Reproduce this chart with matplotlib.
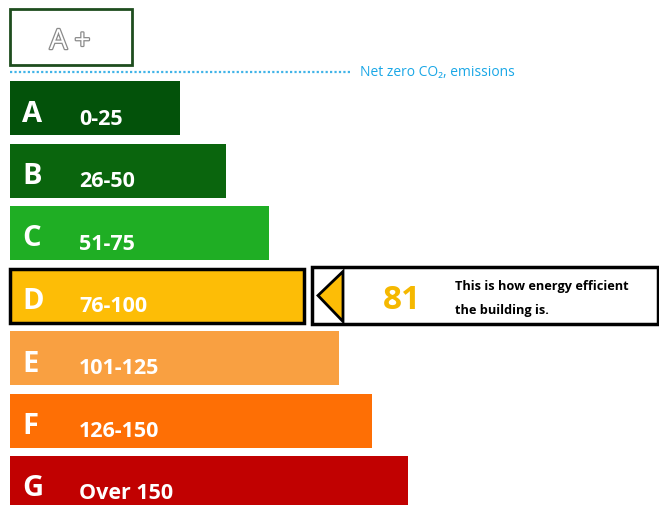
import matplotlib.pyplot as plt
import matplotlib.patheffects as pe
from matplotlib.patches import Rectangle, Polygon

plt.rcParams['font.family'] = ['Open Sans', 'DejaVu Sans']

# rating bands
letters = ['A', 'B', 'C', 'D', 'E', 'F', 'G']
ranges = ['0-25', '26-50', '51-75', '76-100', '101-125', '126-150', 'Over 150']
bar_length = [170, 216, 259, 294, 329, 362, 398]
colors = ['#03520a', '#0a650d', '#1fae24', '#fdbd06', '#f9a041', '#fe6f05', '#c10101']
current_band = 'D'
score = 81
note = ['This is how energy efficient', 'the building is.']

fig = plt.figure(figsize=(6.59, 5.06), dpi=100)
ax = fig.add_axes([0, 0, 1, 1])
ax.set_xlim(0, 659)
ax.set_ylim(506, 0)
ax.axis('off')

y0, step, h, left = 109, 62.5, 54, 10
ys = [y0 + i * step for i in range(len(letters))]

for y, w, c, let, r in zip(ys, bar_length, colors, letters, ranges):
    edge = 'black' if let == current_band else c
    lw = 2.5 if let == current_band else 0
    ax.barh(y, w, left=left, height=h, color=c, edgecolor=edge, linewidth=lw)
    ax.text(22, y + 5, let, color='white', fontsize=21, fontweight='bold',
            va='center', ha='left')
    ax.text(79, y + 10, r, color='white', fontsize=15.5, fontweight='bold',
            va='center', ha='left')

# A+ box
ax.add_patch(Rectangle((10, 10), 122, 56, fill=False, edgecolor='#1e4d1e', linewidth=2))
ax.text(70, 43, 'A +', fontsize=20, color='white', ha='center', va='center',
        path_effects=[pe.withStroke(linewidth=1.8, foreground='#8a8a8a')])

# net zero line
ax.plot([10, 352], [73, 73], color='#41b4e8', linestyle=(0, (1, 1)), linewidth=1.6)
ax.text(360, 72, 'Net zero CO₂, emissions', color='#1aa7e6', fontsize=10,
        va='center', ha='left')

# current rating arrow box
yd = ys[letters.index(current_band)]
ax.add_patch(Rectangle((312, yd - 29), 346, 57, fill=False, edgecolor='black', linewidth=2.5))
ax.add_patch(Polygon([(318, yd), (343, yd - 24), (343, yd + 26)], closed=True,
                     facecolor=colors[letters.index(current_band)], edgecolor='black',
                     linewidth=2))
ax.text(402, yd + 4, str(score), color='#f5b800', fontsize=24, fontweight='bold',
        ha='center', va='center')
ax.text(455, yd - 10, note[0], fontsize=9.2, fontweight='bold', va='center', ha='left')
ax.text(455, yd + 14, note[1], fontsize=9.2, fontweight='bold', va='center', ha='left')

fig.savefig('out.png', dpi=100)
